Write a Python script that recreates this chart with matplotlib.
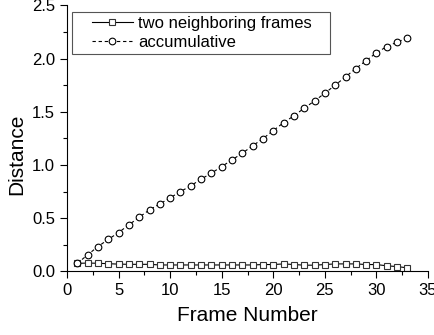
import matplotlib
matplotlib.use('Agg')
import matplotlib.pyplot as plt
from matplotlib.ticker import MultipleLocator
from matplotlib.legend_handler import HandlerLine2D
from matplotlib.patches import Rectangle

plt.rcParams['font.family'] = ['Liberation Sans', 'DejaVu Sans']

frames = list(range(1, 34))

# distance between two neighboring frames
neighboring = [0.075, 0.078, 0.076, 0.072, 0.068, 0.066, 0.066, 0.066, 0.060, 0.060,
               0.060, 0.060, 0.060, 0.060, 0.060, 0.060, 0.060, 0.060, 0.064, 0.064,
               0.070, 0.064, 0.058, 0.058, 0.064, 0.070, 0.070, 0.070, 0.064, 0.064,
               0.052, 0.045, 0.033]

# accumulative distance from frame 1
accumulative = [0.075, 0.155, 0.233, 0.300, 0.365, 0.437, 0.509, 0.578, 0.634, 0.691,
                0.750, 0.804, 0.867, 0.923, 0.985, 1.048, 1.111, 1.180, 1.248, 1.323,
                1.398, 1.462, 1.534, 1.602, 1.675, 1.750, 1.828, 1.906, 1.981, 2.054,
                2.113, 2.154, 2.194]

fig = plt.figure(figsize=(4.35, 3.35), dpi=100)
ax = fig.add_axes([0.154, 0.19, 0.830, 0.794])

l1, = ax.plot(frames, neighboring, color='black', linestyle='-', linewidth=0.8,
              marker='s', markersize=4, markerfacecolor='white',
              markeredgecolor='#333333', markeredgewidth=0.8, label='two neighboring frames')
l2, = ax.plot(frames, accumulative, color='black', linestyle=(0, (3, 2.5)), linewidth=0.8,
              marker='o', markersize=4.8, markerfacecolor='white',
              markeredgecolor='black', markeredgewidth=0.8, label='accumulative')

ax.set_xlim(0, 35)
ax.set_ylim(0, 2.5)
ax.xaxis.set_major_locator(MultipleLocator(5))
ax.xaxis.set_minor_locator(MultipleLocator(2.5))
ax.yaxis.set_major_locator(MultipleLocator(0.5))
ax.yaxis.set_minor_locator(MultipleLocator(0.25))
ax.yaxis.set_major_formatter(plt.FormatStrFormatter('%.1f'))

ax.spines['top'].set_visible(False)
ax.spines['right'].set_visible(False)
ax.tick_params(which='major', direction='out', length=5, width=0.8, labelsize=12)
ax.tick_params(which='minor', direction='out', length=3, width=0.8)

ax.set_xlabel('Frame Number', fontsize=15, labelpad=6)
ax.set_ylabel('Distance', fontsize=15)
ax.yaxis.set_label_coords(-0.114, 0.44)

# legend box drawn separately: the original has wide side margins but tight top/bottom
box = Rectangle((72 / 435, 1 - 54 / 335), 258 / 435, 42 / 335, transform=fig.transFigure,
                facecolor='white', edgecolor='#555555', linewidth=0.8, clip_on=False, zorder=4)
ax.add_patch(box)

hmap = {l1: HandlerLine2D(xpad=1.0), l2: HandlerLine2D(xpad=1.0)}
leg = ax.legend(handler_map=hmap, loc='upper left', bbox_to_anchor=(75 / 435, 1 - 16 / 335),
                bbox_transform=fig.transFigure, fontsize=12, frameon=False,
                handlelength=3.45, borderpad=0, labelspacing=0.22,
                handletextpad=0.35, borderaxespad=0)
leg.set_zorder(5)

fig.savefig('out.png', dpi=100)
